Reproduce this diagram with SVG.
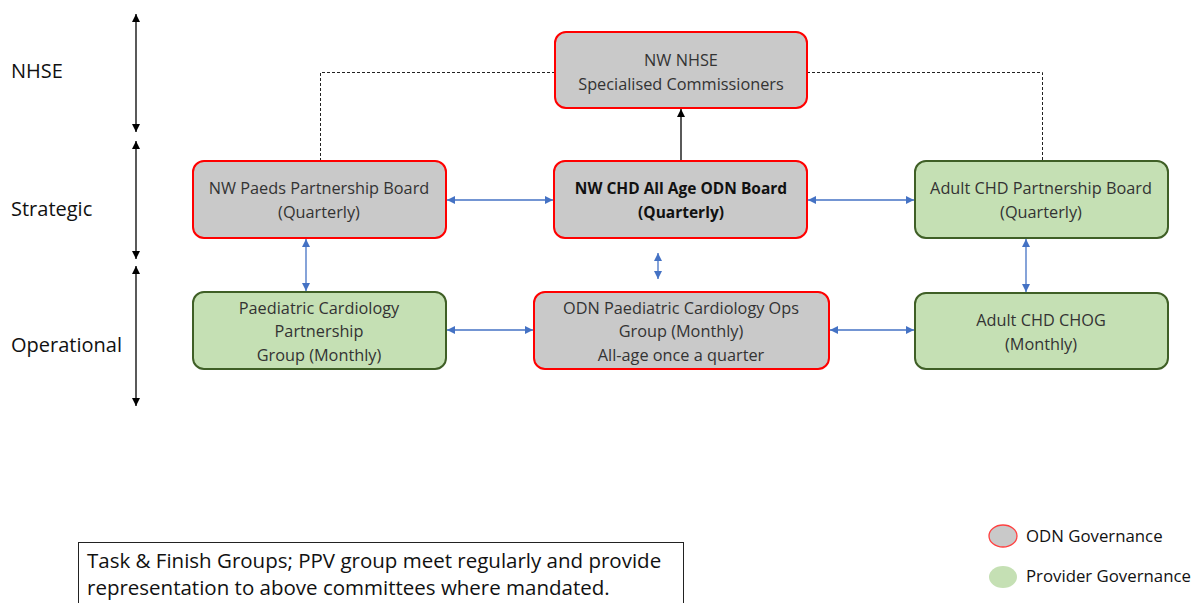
<svg xmlns="http://www.w3.org/2000/svg" width="1200" height="603" viewBox="0 0 1200 603">
<defs>
<marker id="ab" viewBox="0 0 10 10" refX="10" refY="5" markerWidth="8" markerHeight="8" markerUnits="userSpaceOnUse" orient="auto-start-reverse"><path d="M0,0 L10,5 L0,10 z" fill="#4472c4"/></marker>
<marker id="ak" viewBox="0 0 10 10" refX="10" refY="5" markerWidth="8" markerHeight="8" markerUnits="userSpaceOnUse" orient="auto-start-reverse"><path d="M0,0 L10,5 L0,10 z" fill="#000"/></marker>
<style>
text{font-family:"Open Sans","Liberation Sans",sans-serif;fill:#222;}
.bt{font-size:16.3px;text-anchor:middle;fill:#333;}
.bb{font-size:15.5px;text-anchor:middle;font-weight:bold;fill:#111;}
.lbl{font-size:20px;fill:#111;}
.note{font-size:20.5px;fill:#111;}
.odn{fill:#c9c9c9;stroke:#ff0000;stroke-width:2;}
.prov{fill:#c5e0b4;stroke:#3f5f26;stroke-width:2;}
.blue{stroke:#4472c4;stroke-width:1.3;fill:none;marker-start:url(#ab);marker-end:url(#ab);}
.axis{stroke:#000;stroke-width:1.3;fill:none;marker-start:url(#ak);marker-end:url(#ak);}
.dash{stroke:#222;stroke-width:1;stroke-dasharray:3,2;fill:none;}
</style>
</defs>
<rect width="1200" height="603" fill="#fff"/>
<g id="levels">
<line class="axis" x1="136" y1="14" x2="136" y2="132"/>
<line class="axis" x1="136" y1="141" x2="136" y2="259"/>
<line class="axis" x1="136" y1="266" x2="136" y2="406"/>
<text class="lbl" x="11" y="78">NHSE</text>
<text class="lbl" x="11" y="216">Strategic</text>
<text class="lbl" x="11" y="352">Operational</text>
</g>
<g id="connectors">
<polyline class="dash" points="320.5,161 320.5,72.5 555,72.5"/>
<polyline class="dash" points="807,72.5 1042.5,72.5 1042.5,161"/>
<line x1="681" y1="161" x2="681" y2="109" stroke="#000" stroke-width="1.3" marker-end="url(#ak)"/>
<line class="blue" x1="447" y1="200" x2="553" y2="200"/>
<line class="blue" x1="808" y1="200" x2="914" y2="200"/>
<line class="blue" x1="306" y1="239" x2="306" y2="291"/>
<line class="blue" x1="658" y1="253" x2="658" y2="279"/>
<line class="blue" x1="1026" y1="239" x2="1026" y2="292"/>
<line class="blue" x1="447" y1="330" x2="533" y2="330"/>
<line class="blue" x1="830" y1="330" x2="914" y2="330"/>
</g>
<g id="nhse">
<rect class="odn" x="555" y="32" width="252" height="76" rx="11"/>
<text class="bt" x="681" y="66">NW NHSE</text>
<text class="bt" x="681" y="90">Specialised Commissioners</text>
</g>
<g id="paeds-board">
<rect class="odn" x="193" y="161" width="253" height="77" rx="11"/>
<text class="bt" x="319" y="194">NW Paeds Partnership Board</text>
<text class="bt" x="319" y="218">(Quarterly)</text>
</g>
<g id="odn-board">
<rect class="odn" x="554" y="161" width="253" height="77" rx="11"/>
<text class="bb" x="681" y="194">NW CHD All Age ODN Board</text>
<text class="bb" x="681" y="218">(Quarterly)</text>
</g>
<g id="adult-board">
<rect class="prov" x="915" y="161" width="253" height="77" rx="11"/>
<text class="bt" x="1041" y="194">Adult CHD Partnership Board</text>
<text class="bt" x="1041" y="218">(Quarterly)</text>
</g>
<g id="paed-cardio">
<rect class="prov" x="193" y="292" width="253" height="77" rx="11"/>
<text class="bt" x="319" y="314">Paediatric Cardiology</text>
<text class="bt" x="319" y="337">Partnership</text>
<text class="bt" x="319" y="361">Group (Monthly)</text>
</g>
<g id="odn-ops">
<rect class="odn" x="534" y="292" width="295" height="77" rx="11"/>
<text class="bt" x="681" y="314">ODN Paediatric Cardiology Ops</text>
<text class="bt" x="681" y="337">Group (Monthly)</text>
<text class="bt" x="681" y="361">All-age once a quarter</text>
</g>
<g id="adult-chog">
<rect class="prov" x="915" y="293" width="253" height="76" rx="11"/>
<text class="bt" x="1041" y="326">Adult CHD CHOG</text>
<text class="bt" x="1041" y="350">(Monthly)</text>
</g>
<g id="note">
<rect x="78.5" y="542.5" width="605" height="70" fill="#fff" stroke="#222" stroke-width="1"/>
<text class="note" x="87" y="568">Task &amp; Finish Groups; PPV group meet regularly and provide</text>
<text class="note" x="87" y="595">representation to above committees where mandated.</text>
</g>
<g id="legend">
<ellipse cx="1003" cy="536" rx="14" ry="11" fill="#c9c9c9" stroke="#ff4040" stroke-width="1.3"/>
<text x="1026" y="542" font-size="16.8" style="fill:#111">ODN Governance</text>
<ellipse cx="1003" cy="577" rx="14" ry="11" fill="#c5e0b4"/>
<text x="1026" y="582" font-size="16.8" style="fill:#111">Provider Governance</text>
</g>
</svg>
